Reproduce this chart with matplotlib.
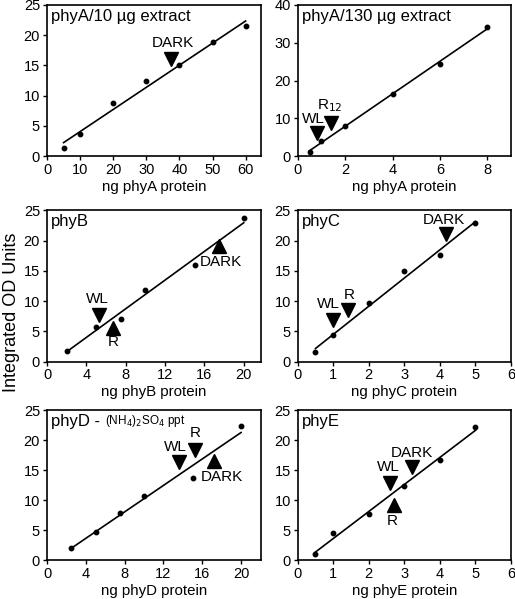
import numpy as np
import matplotlib
matplotlib.use("Agg")
import matplotlib.pyplot as plt

plt.rcParams['font.family'] = ['Liberation Sans', 'DejaVu Sans']

# ---- data ----
phyA10_x = [5, 10, 20, 30, 40, 50, 60]
phyA10_y = [1.3, 3.6, 8.7, 12.4, 15.0, 18.9, 21.5]

phyA130_x = [0.5, 1, 2, 4, 6, 8]
phyA130_y = [1.15, 4.1, 7.9, 16.3, 24.3, 34.3]

phyB_x = [2, 5, 7.5, 10, 15, 20]
phyB_y = [1.8, 5.75, 7.0, 11.9, 15.9, 23.7]

phyC_x = [0.5, 1, 2, 3, 4, 5]
phyC_y = [1.5, 4.4, 9.75, 15.0, 17.6, 23.0]

phyD_x = [2.5, 5, 7.5, 10, 15, 20]
phyD_y = [2.05, 4.6, 7.9, 10.7, 13.7, 22.4]

phyE_x = [0.5, 1, 2, 3, 4, 5]
phyE_y = [1.06, 4.47, 7.66, 12.3, 16.6, 22.2]

# sample markers: (label, marker x, marker y, direction, label x, label y)
phyA10_marks = [("DARK", 37.5, 16.0, "down", 38.1, 18.7)]
phyA130_marks = [("WL", 0.8, 6.0, "down", 0.66, 9.7),
                 ("R$_{12}$", 1.4, 8.8, "down", 1.36, 13.3)]
phyB_marks = [("WL", 5.3, 7.7, "down", 5.1, 10.3),
              ("R", 6.7, 5.6, "up", 6.7, 3.15),
              ("DARK", 17.5, 19.1, "up", 17.7, 16.4)]
phyC_marks = [("WL", 1.0, 6.9, "down", 0.86, 9.5),
              ("R", 1.41, 8.5, "down", 1.45, 11.0),
              ("DARK", 4.18, 21.1, "down", 4.1, 23.4)]
phyD_marks = [("WL", 13.6, 16.3, "down", 13.2, 18.9),
              ("R", 15.3, 18.4, "down", 15.3, 21.1),
              ("DARK", 17.2, 16.5, "up", 18.0, 13.9)]
phyE_marks = [("WL", 2.6, 12.9, "down", 2.56, 15.5),
              ("DARK", 3.21, 15.5, "down", 3.2, 17.8),
              ("R", 2.7, 9.2, "up", 2.65, 6.5)]

panels = [
    dict(title="phyA/10 µg extract", x=phyA10_x, y=phyA10_y, marks=phyA10_marks,
         xlabel="ng phyA protein", xlim=(0, 64.5), xticks=[0, 10, 20, 30, 40, 50, 60],
         ylim=(0, 25), yticks=[0, 5, 10, 15, 20, 25]),
    dict(title="phyA/130 µg extract", x=phyA130_x, y=phyA130_y, marks=phyA130_marks,
         xlabel="ng phyA protein", xlim=(0, 9), xticks=[0, 2, 4, 6, 8],
         ylim=(0, 40), yticks=[0, 10, 20, 30, 40]),
    dict(title="phyB", x=phyB_x, y=phyB_y, marks=phyB_marks,
         xlabel="ng phyB protein", xlim=(0, 21.7), xticks=[0, 4, 8, 12, 16, 20],
         ylim=(0, 25), yticks=[0, 5, 10, 15, 20, 25]),
    dict(title="phyC", x=phyC_x, y=phyC_y, marks=phyC_marks,
         xlabel="ng phyC protein", xlim=(0, 6), xticks=[0, 1, 2, 3, 4, 5, 6],
         ylim=(0, 25), yticks=[0, 5, 10, 15, 20, 25]),
    dict(title="phyD - ", subtitle="(NH$_4$)$_2$SO$_4$ ppt", x=phyD_x, y=phyD_y, marks=phyD_marks,
         xlabel="ng phyD protein", xlim=(0, 22), xticks=[0, 4, 8, 12, 16, 20],
         ylim=(0, 25), yticks=[0, 5, 10, 15, 20, 25]),
    dict(title="phyE", x=phyE_x, y=phyE_y, marks=phyE_marks,
         xlabel="ng phyE protein", xlim=(0, 6), xticks=[0, 1, 2, 3, 4, 5, 6],
         ylim=(0, 25), yticks=[0, 5, 10, 15, 20, 25]),
]

W, H = 515, 599
fig = plt.figure(figsize=(W / 100, H / 100), dpi=100)

col_left = [47, 297.7]
col_right = [260.5, 511]
row_top = [5, 210.5, 410]
row_bot = [156, 361.5, 560]

for i, p in enumerate(panels):
    r, c = divmod(i, 2)
    l = col_left[c] / W
    w = (col_right[c] - col_left[c]) / W
    b = 1 - row_bot[r] / H
    h = (row_bot[r] - row_top[r]) / H
    ax = fig.add_axes([l, b, w, h])
    x = np.array(p["x"], float)
    y = np.array(p["y"], float)
    ax.plot(x, y, 'o', color='black', ms=3.2, zorder=3)
    k, c0 = np.polyfit(x, y, 1)
    xf = np.array([x.min(), x.max()])
    ax.plot(xf, k * xf + c0, '-', color='black', lw=1.2)
    for lab, mx, my, d, lx, ly in p["marks"]:
        ax.plot([mx], [my], 'v' if d == "down" else '^', color='black', ms=10, zorder=4)
        ax.text(lx, ly, lab, ha='center', va='center', fontsize=11)
    ax.set_xlim(*p["xlim"])
    ax.set_ylim(*p["ylim"])
    ax.set_xticks(p["xticks"])
    ax.set_yticks(p["yticks"])
    ax.tick_params(direction='out', length=3, width=1, labelsize=10.5, pad=2)
    for s in ax.spines.values():
        s.set_linewidth(1.2)
    ax.set_xlabel(p["xlabel"], fontsize=10.8, labelpad=2)
    t = ax.text(0.02, 0.975, p["title"], transform=ax.transAxes, ha='left', va='top', fontsize=12)
    if "subtitle" in p:
        ax.annotate(p["subtitle"], xy=(1, 0.5), xycoords=t, xytext=(0, 0),
                    textcoords='offset points', ha='left', va='center', fontsize=8.5)

fig.text(12 / W, 1 - 312 / H, "Integrated OD Units", rotation=90, ha='center', va='center', fontsize=13)

fig.savefig("out.png", dpi=100)
